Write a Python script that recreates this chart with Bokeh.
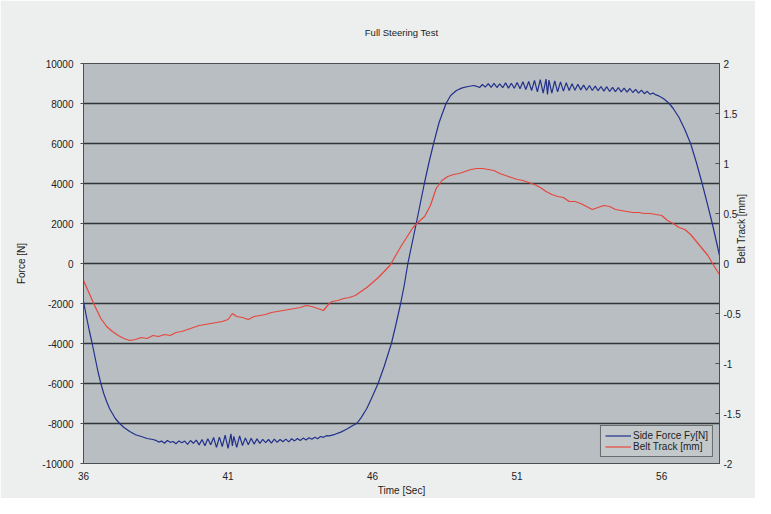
import math
from bokeh.plotting import figure
from bokeh.models import Range1d, LinearAxis, FixedTicker, Legend, LegendItem
from bokeh.embed import file_html
from bokeh.resources import INLINE

TITLE = "Full Steering Test"
X_LABEL = "Time [Sec]"
Y_LABEL = "Force [N]"
Y2_LABEL = "Belt Track [mm]"
SERIES_NAMES = ["Side Force Fy[N]", "Belt Track [mm]"]

x_ticks = [36, 41, 46, 51, 56]
y_ticks = [-10000, -8000, -6000, -4000, -2000, 0, 2000, 4000, 6000, 8000, 10000]
y_tick_labels = ["-10000", "-8000", "-6000", "-4000", "-2000", "0", "2000", "4000", "6000", "8000", "10000"]
y2_ticks = [-2, -1.5, -1, -0.5, 0, 0.5, 1, 1.5, 2]
y2_tick_labels = ["-2", "-1.5", "-1", "-0.5", "0", "0.5", "1", "1.5", "2"]

# Side force Fy [N]
force_t = [
    36.0, 36.1, 36.2, 36.3, 36.4, 36.5, 36.6, 36.7, 36.8, 36.9, 37.0, 37.1, 37.25, 37.4, 37.6, 37.8, 38.0, 38.2, 38.4,
    38.5, 38.6, 38.7, 38.8, 38.9, 39.0, 39.1, 39.2, 39.3, 39.4, 39.5, 39.6, 39.7, 39.8, 39.9,
    40.0, 40.1, 40.2, 40.3, 40.4, 40.5, 40.6, 40.7, 40.8, 40.9, 41.0, 41.1, 41.15, 41.2, 41.3, 41.4,
    41.5, 41.6, 41.7, 41.8, 41.9, 42.0, 42.1, 42.2, 42.3, 42.4, 42.5, 42.6, 42.7, 42.8, 42.9,
    43.0, 43.1, 43.2, 43.3, 43.4, 43.5, 43.6, 43.7, 43.8, 43.9, 44.0, 44.1, 44.2, 44.3, 44.4,
    44.5, 44.7, 44.9, 45.1, 45.3, 45.45, 45.6, 45.8, 46.0, 46.19, 46.4, 46.65, 46.8, 46.97, 47.1,
    47.22, 47.35, 47.51, 47.65, 47.79, 47.95, 48.11, 48.3, 48.54, 48.7, 48.9, 49.1, 49.3, 49.5,
    49.6, 49.7, 49.8, 49.9, 50.0, 50.1, 50.2, 50.3, 50.4, 50.5, 50.6, 50.7, 50.8, 50.9,
    51.0, 51.1, 51.2, 51.3, 51.4, 51.5, 51.6, 51.7, 51.8, 51.9, 52.0, 52.05, 52.1, 52.2, 52.3, 52.4,
    52.5, 52.6, 52.7, 52.8, 52.9, 53.0, 53.1, 53.2, 53.3, 53.4, 53.5, 53.6, 53.7, 53.8, 53.9,
    54.0, 54.1, 54.2, 54.3, 54.4, 54.5, 54.6, 54.7, 54.8, 54.9, 55.0, 55.1, 55.2, 55.3, 55.4,
    55.5, 55.6, 55.7, 55.8, 55.9, 56.0, 56.1, 56.26, 56.4, 56.6, 56.8, 57.0, 57.2, 57.4, 57.6,
    57.75, 57.9, 58.0,
]
force_v = [
    -1900, -2650, -3350, -4000, -4700, -5400, -6000, -6500, -6900, -7250, -7500, -7750, -8000, -8200, -8400, -8560, -8650, -8750, -8800,
    -8840, -8930, -8880, -8990, -8850, -8940, -8900, -9010, -8870, -8960, -8880, -9040, -8850, -8990, -8830,
    -9070, -8800, -9110, -8760, -9060, -8700, -9190, -8680, -9150, -8580, -9240, -8520, -9120, -8640, -9190, -8620,
    -9100, -8720, -9060, -8740, -9030, -8770, -8990, -8790, -8960, -8800, -8980, -8780, -8940, -8800, -8910,
    -8780, -8920, -8760, -8870, -8750, -8850, -8730, -8820, -8710, -8790, -8690, -8760, -8650, -8690, -8610,
    -8620, -8540, -8430, -8290, -8110, -8000, -7720, -7250, -6620, -6000, -5150, -4000, -3100, -2000, -1050,
    0, 900, 2000, 3000, 4000, 5050, 6000, 7050, 8000, 8400, 8650, 8780, 8850, 8900,
    8860, 8800, 8950, 8820, 8990, 8810, 9010, 8800, 8980, 8790, 9030, 8770, 9010, 8760,
    9050, 8740, 9090, 8700, 9100, 8650, 9160, 8580, 9190, 8520, 9220, 8450, 9170, 8520, 9130, 8580,
    9080, 8620, 9040, 8650, 8990, 8660, 8960, 8680, 8920, 8660, 8900, 8650, 8870, 8640, 8850,
    8620, 8840, 8600, 8810, 8590, 8800, 8580, 8770, 8570, 8750, 8550, 8710, 8520, 8670, 8490,
    8610, 8460, 8520, 8430, 8380, 8300, 8200, 8000, 7750, 7300, 6700, 6000, 5050, 4000, 2870,
    2000, 1050, 400,
]

# Belt track [mm]
belt_t = [
    36.0, 36.2, 36.4, 36.6, 36.8, 37.0, 37.2, 37.4, 37.6, 37.8, 38.0, 38.2, 38.4, 38.6, 38.8,
    39.0, 39.2, 39.4, 39.6, 39.8, 40.0, 40.2, 40.4, 40.6, 40.8, 41.0, 41.15, 41.3, 41.5, 41.7, 41.9,
    42.1, 42.3, 42.5, 42.7, 42.9, 43.1, 43.3, 43.5, 43.7, 43.9, 44.1, 44.3, 44.5, 44.6, 44.8,
    45.0, 45.2, 45.4, 45.6, 45.8, 46.0, 46.2, 46.4, 46.6, 46.8, 47.0, 47.2, 47.4, 47.6, 47.8,
    48.0, 48.2, 48.4, 48.6, 48.8, 49.0, 49.2, 49.4, 49.6, 49.8, 50.0, 50.2, 50.4, 50.6, 50.8,
    51.0, 51.2, 51.4, 51.6, 51.8, 52.0, 52.2, 52.4, 52.6, 52.8, 53.0, 53.2, 53.4, 53.6, 53.8,
    54.0, 54.2, 54.4, 54.6, 54.8, 55.0, 55.2, 55.4, 55.6, 55.8, 56.0, 56.2, 56.4, 56.6, 56.8,
    57.0, 57.2, 57.4, 57.6, 57.8, 58.0,
]
belt_v = [
    -0.17, -0.30, -0.43, -0.55, -0.63, -0.68, -0.72, -0.75, -0.77, -0.76, -0.74, -0.75, -0.72, -0.73, -0.71,
    -0.72, -0.69, -0.68, -0.66, -0.64, -0.62, -0.61, -0.60, -0.59, -0.58, -0.56, -0.50, -0.53, -0.54, -0.56, -0.53,
    -0.52, -0.51, -0.49, -0.48, -0.47, -0.46, -0.45, -0.44, -0.42, -0.43, -0.45, -0.47, -0.40, -0.38, -0.37,
    -0.35, -0.34, -0.32, -0.28, -0.24, -0.19, -0.14, -0.08, -0.02, 0.08, 0.18, 0.27, 0.36, 0.42, 0.47,
    0.58, 0.75, 0.83, 0.87, 0.89, 0.90, 0.92, 0.94, 0.95, 0.95, 0.94, 0.93, 0.90, 0.88, 0.86,
    0.84, 0.83, 0.81, 0.79, 0.76, 0.72, 0.69, 0.67, 0.66, 0.62, 0.62, 0.60, 0.57, 0.54, 0.56,
    0.58, 0.57, 0.54, 0.53, 0.52, 0.51, 0.51, 0.50, 0.50, 0.49, 0.48, 0.43, 0.40, 0.36, 0.34,
    0.29, 0.22, 0.15, 0.08, -0.02, -0.11,
]

FONT = "Liberation Sans"
TXT = "#222222"

p = figure(width=755, height=498, output_backend="svg", toolbar_location=None,
           x_range=Range1d(36, 58), y_range=Range1d(-10000, 10000),
           min_border_left=83, min_border_right=31, min_border_top=63, min_border_bottom=34)
p.extra_y_ranges = {"belt": Range1d(-2, 2)}

p.background_fill_color = "#b8bec1"
p.border_fill_color = "#edefee"
p.outline_line_color = "#4a4f53"
p.outline_line_width = 1

p.title.text = TITLE
p.title.align = "center"
p.title.vertical_align = "top"
p.title.text_font = FONT
p.title.text_font_size = "9.5px"
p.title.text_font_style = "normal"
p.title.text_color = TXT
p.title.standoff = 48

p.xgrid.visible = False
p.ygrid.ticker = FixedTicker(ticks=y_ticks)
p.ygrid.grid_line_color = "#30363a"
p.ygrid.grid_line_width = 1.3

xa = p.xaxis[0]
xa.ticker = FixedTicker(ticks=x_ticks)
xa.axis_label = X_LABEL
xa.major_tick_out = 0
xa.major_tick_in = 0
xa.minor_tick_out = 0
xa.minor_tick_in = 0
xa.major_label_standoff = 8
xa.axis_label_standoff = 2

ya = p.yaxis[0]
ya.ticker = FixedTicker(ticks=y_ticks)
ya.major_label_overrides = {t: s for t, s in zip(y_ticks, y_tick_labels)}
ya.axis_label = Y_LABEL
ya.major_tick_out = 3
ya.major_tick_in = 0
ya.minor_tick_out = 0
ya.minor_tick_in = 0
ya.major_label_standoff = 7
ya.axis_label_standoff = 12

y2 = LinearAxis(y_range_name="belt", ticker=FixedTicker(ticks=y2_ticks),
                major_label_overrides={t: s for t, s in zip(y2_ticks, y2_tick_labels)},
                axis_label=Y2_LABEL)
y2.major_tick_out = 0
y2.major_tick_in = 4
y2.minor_tick_out = 0
y2.minor_tick_in = 0
y2.major_label_standoff = 4
y2.axis_label_standoff = -2
if "axis_label_orientation" in LinearAxis.properties():
    y2.axis_label_orientation = math.pi / 2
p.add_layout(y2, "right")

for ax in (xa, ya, y2):
    ax.axis_line_color = "#4a4f53"
    ax.major_tick_line_color = "#4a4f53"
    ax.major_label_text_font = FONT
    ax.major_label_text_font_size = "10px"
    ax.major_label_text_color = TXT
    ax.axis_label_text_font = FONT
    ax.axis_label_text_font_size = "10px"
    ax.axis_label_text_font_style = "normal"
    ax.axis_label_text_color = TXT

r_force = p.line(force_t, force_v, line_color="#23318c", line_width=1.2)
r_belt = p.line(belt_t, belt_v, y_range_name="belt", line_color="#e8463c", line_width=1.2)

legend = Legend(items=[LegendItem(label=SERIES_NAMES[0], renderers=[r_force]),
                       LegendItem(label=SERIES_NAMES[1], renderers=[r_belt])],
                location="bottom_right")
legend.margin = 6
legend.padding = 4
legend.spacing = 0
legend.label_text_font = FONT
legend.label_text_font_size = "10px"
legend.label_text_color = TXT
legend.label_height = 11
legend.glyph_height = 11
legend.glyph_width = 26
legend.label_standoff = 2
legend.background_fill_color = "#c3c9cb"
legend.background_fill_alpha = 1
legend.border_line_color = "#111111"
legend.border_line_width = 1
p.add_layout(legend, "center")

open("out.html", "w").write(file_html(p, INLINE))
